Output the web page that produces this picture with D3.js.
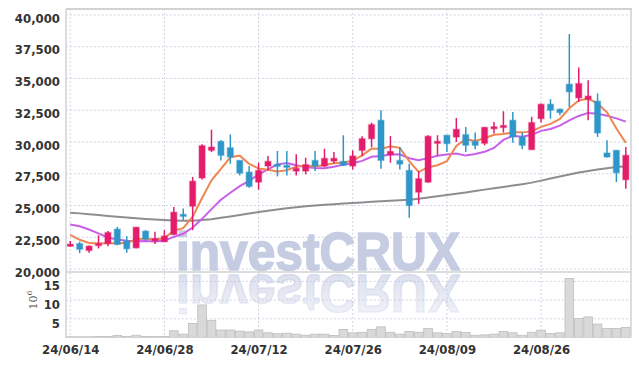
<!DOCTYPE html>
<html lang="ko">
<head>
<meta charset="UTF-8">
<title>Candlestick chart</title>
<style>
  body { margin: 0; background: #fff; }
  svg { display: block; }
  .axis text { font-family: "DejaVu Sans Condensed", "DejaVu Sans", sans-serif; font-size: 13px; font-weight: bold; fill: #333; }
  .grid line { stroke: #c3c8da; stroke-width: 1; stroke-dasharray: 1.5,2.5; }
  .frame { stroke: #d2d2d2; fill: none; }
</style>
</head>
<body>
<svg width="639" height="366"></svg>
<script src="https://d3js.org/d3.v7.min.js"></script>
<script>
const dates = [
  "24/06/14","24/06/17","24/06/18","24/06/19","24/06/20","24/06/21","24/06/24","24/06/25","24/06/26","24/06/27",
  "24/06/28","24/07/01","24/07/02","24/07/03","24/07/04","24/07/05","24/07/08","24/07/09","24/07/10","24/07/11",
  "24/07/12","24/07/15","24/07/16","24/07/17","24/07/18","24/07/19","24/07/22","24/07/23","24/07/24","24/07/25",
  "24/07/26","24/07/29","24/07/30","24/07/31","24/08/01","24/08/02","24/08/05","24/08/06","24/08/07","24/08/08",
  "24/08/09","24/08/12","24/08/13","24/08/14","24/08/16","24/08/19","24/08/20","24/08/21","24/08/22","24/08/23",
  "24/08/26","24/08/27","24/08/28","24/08/29","24/08/30","24/09/02","24/09/03","24/09/04","24/09/05","24/09/06"
];
const open = [
  21900,22000,21460,21920,22010,23140,22220,21670,22980,22220,
  22140,22720,24300,24940,27170,29340,30050,29550,28550,27630,
  26840,28110,28240,28160,27710,27710,28550,28110,28500,28470,
  28110,29340,30260,31710,29000,28550,27760,26050,26840,29920,
  30530,30390,30580,30050,29900,31150,31280,31710,30400,29400,
  31840,32970,32580,34550,33470,33370,33210,29130,29340,27030
];
const high = [
  22200,22150,21850,22660,23000,23320,22590,23300,23060,22930,
  23060,24890,24760,27250,29820,30970,30130,30600,28550,28110,
  28370,28900,29290,29290,29030,28760,29290,29470,29210,30530,
  29340,30450,31530,32500,30470,29600,28290,27690,30530,30530,
  30530,31890,31180,30740,31180,31580,32420,32370,30740,31980,
  33030,33370,32630,38500,35870,34870,33820,30130,29340,29610
];
const low = [
  21750,21250,21280,21620,21800,21880,21280,21620,22220,21960,
  22140,22660,23840,23060,27040,29210,28550,28290,27370,26400,
  26240,27760,27290,27370,27370,27450,27710,28030,28290,28110,
  27840,28900,29600,27900,28370,27840,24030,25130,26790,28950,
  29210,30000,29210,29420,29740,30660,30740,29950,29420,29400,
  31530,31840,32110,32760,33160,31710,30400,28770,26850,26320
];
const close = [
  21950,21550,21800,22000,22870,21930,21590,23290,22350,22400,
  22590,24470,24250,26910,29710,29600,28950,28820,27550,26500,
  27760,28470,28110,28030,27920,28210,28110,28710,28710,28160,
  28900,30260,31370,28550,29260,28260,25000,27110,30450,30050,
  29870,31000,29740,29740,31150,31200,31300,30400,29740,31530,
  32970,32500,32320,33950,34600,33610,30710,28820,27580,28950
];
// volume, millions of shares
const volume = [
  0.2,0.2,0.2,0.25,0.3,0.55,0.3,0.6,0.3,0.3,
  0.3,1.8,0.9,3.75,8.7,4.6,2.0,2.0,1.7,1.5,
  2.0,1.25,1.0,1.15,0.9,0.6,0.9,0.9,0.55,2.15,
  1.25,1.4,2.15,2.85,1.4,0.9,1.6,1.4,2.4,1.25,
  1.1,1.6,1.35,0.6,0.7,0.9,1.6,1.25,0.6,1.4,
  1.95,1.1,1.25,15.8,5.1,5.5,3.6,2.4,2.4,2.7
];
const ma5 = [
  22680,22300,22050,22000,22034,22030,22038,22336,22406,22312,
  22444,23020,23212,24124,25586,26988,27884,28798,28926,28284,
  27916,27820,27678,27774,28058,28148,28076,28196,28332,28380,
  28518,28948,29480,29448,29668,29540,28488,27636,28016,28174,
  28496,29696,30222,30080,30300,30566,30626,30758,30758,30834,
  31188,31428,31812,32654,33268,33396,33038,32338,31064,29934
];
const ma10 = [
  23500,23370,23110,22800,22480,22320,22220,22190,22200,22173,
  22237,22529,22774,23265,23949,24716,25452,26005,26525,26935,
  27452,27852,28238,28350,28171,28032,27948,27937,28053,28219,
  28333,28512,28838,28890,29024,29029,28718,28558,28732,28921,
  29018,29092,28929,29048,29237,29531,30161,30490,30419,30567,
  30877,31027,31285,31706,32051,32292,32233,32075,31859,31601
];
const ma60 = [
  24430,24380,24320,24250,24180,24110,24050,24000,23940,23890,
  23850,23820,23800,23800,23850,23920,24030,24140,24260,24370,
  24480,24580,24680,24780,24870,24950,25000,25050,25100,25150,
  25200,25240,25290,25330,25370,25410,25450,25540,25630,25720,
  25820,25920,26030,26140,26250,26350,26460,26570,26680,26800,
  26960,27120,27280,27440,27600,27720,27840,27940,28030,28100
];
const priceTicks = [20000,22500,25000,27500,30000,32500,35000,37500,40000];
const volumeTicks = [5,10,15];
const dateTicks = ["24/06/14","24/06/28","24/07/12","24/07/26","24/08/09","24/08/26"];

const UP = "#e31c6b", DOWN = "#2f96c9";
const m = { left: 66, right: 631, top: 9, sep: 272, bottom: 337.5 };

const svg = d3.select("svg");
const idx = d3.range(dates.length);

const x = d3.scaleLinear().domain([-0.45, dates.length - 0.45]).range([m.left, m.right]);
const y = d3.scaleLinear().domain([20000, 40000]).range([269, 15]);
const yv = d3.scaleLinear().domain([0, 15]).range([m.bottom, 281.4]);
const step = x(1) - x(0);

// watermark + reflection
const defs = svg.append("defs");
const grad = defs.append("linearGradient").attr("id", "fade")
  .attr("x1", 0).attr("y1", 0).attr("x2", 0).attr("y2", 1);
grad.append("stop").attr("offset", 0).attr("stop-color", "#cdd3e7").attr("stop-opacity", 0.2);
grad.append("stop").attr("offset", 1).attr("stop-color", "#cdd3e7").attr("stop-opacity", 0.8);

const wm = svg.append("g").attr("font-family", "Liberation Sans, Arial, sans-serif")
  .attr("font-weight", "bold").attr("font-size", 53);
wm.append("text").attr("x", 176).attr("y", 270)
  .attr("textLength", 284).attr("lengthAdjust", "spacingAndGlyphs")
  .attr("fill", "#c6cde3").attr("stroke", "#c6cde3").attr("stroke-width", 1.6)
  .text("investCRUX");
wm.append("text").attr("x", 176).attr("y", 270)
  .attr("transform", "translate(0,545) scale(1,-1)")
  .attr("textLength", 284).attr("lengthAdjust", "spacingAndGlyphs")
  .attr("fill", "url(#fade)").attr("stroke", "url(#fade)").attr("stroke-width", 1.6)
  .text("investCRUX");

// grid
const grid = svg.append("g").attr("class", "grid");
grid.selectAll(".hp").data(priceTicks).join("line").attr("class", "hp")
  .attr("x1", m.left).attr("x2", m.right).attr("y1", d => y(d)).attr("y2", d => y(d));
grid.selectAll(".hv").data(volumeTicks).join("line").attr("class", "hv")
  .attr("x1", m.left).attr("x2", m.right).attr("y1", d => yv(d)).attr("y2", d => yv(d));
grid.selectAll(".vx").data(dateTicks).join("line").attr("class", "vx")
  .attr("x1", d => x(dates.indexOf(d))).attr("x2", d => x(dates.indexOf(d)))
  .attr("y1", m.top).attr("y2", m.bottom);

// volume bars
svg.append("g").selectAll("rect").data(idx).join("rect")
  .attr("x", i => x(i) - step / 2 + 0.4)
  .attr("width", step - 0.8)
  .attr("y", i => yv(volume[i]))
  .attr("height", i => m.bottom - yv(volume[i]))
  .attr("fill", "#d9d9d9").attr("stroke", "#bdbdbd").attr("stroke-width", 0.8);

// moving averages
const line = arr => d3.line().x(i => x(i)).y(i => y(arr[i]))(idx);
svg.append("path").attr("d", line(ma60)).attr("fill", "none")
  .attr("stroke", "#7a7a7a").attr("stroke-width", 2).attr("stroke-opacity", 0.85);
svg.append("path").attr("d", line(ma10)).attr("fill", "none")
  .attr("stroke", "#c95ee8").attr("stroke-width", 2);
svg.append("path").attr("d", line(ma5)).attr("fill", "none")
  .attr("stroke", "#ee8751").attr("stroke-width", 2);

// candles
const bw = 6;
const candle = svg.append("g").selectAll("g").data(idx).join("g");
candle.append("line")
  .attr("x1", i => x(i)).attr("x2", i => x(i))
  .attr("y1", i => y(high[i])).attr("y2", i => y(low[i]))
  .attr("stroke", i => close[i] >= open[i] ? UP : DOWN).attr("stroke-width", 1.5);
candle.append("rect")
  .attr("x", i => x(i) - bw / 2).attr("width", bw)
  .attr("y", i => y(Math.max(open[i], close[i])))
  .attr("height", i => Math.max(2, Math.abs(y(open[i]) - y(close[i]))))
  .attr("fill", i => close[i] >= open[i] ? UP : DOWN)
  .attr("stroke", i => close[i] >= open[i] ? UP : DOWN)
  .attr("stroke-opacity", 0.35).attr("stroke-width", 1.5);

// frame
svg.append("line").attr("class", "frame").attr("x1", m.left).attr("x2", m.right + 1)
  .attr("y1", m.top).attr("y2", m.top).attr("stroke-width", 2);
svg.append("line").attr("class", "frame").attr("x1", m.left).attr("x2", m.left)
  .attr("y1", m.top).attr("y2", m.bottom).attr("stroke-width", 1.5);
svg.append("line").attr("class", "frame").attr("x1", m.right).attr("x2", m.right)
  .attr("y1", m.top).attr("y2", m.bottom).attr("stroke-width", 1.5);
svg.append("line").attr("class", "frame").attr("x1", m.left).attr("x2", m.right)
  .attr("y1", m.sep).attr("y2", m.sep).attr("stroke-width", 1.5);
svg.append("line").attr("class", "frame").attr("x1", m.left).attr("x2", m.right)
  .attr("y1", m.bottom).attr("y2", m.bottom).attr("stroke-width", 1);

// axes
const yAxis = svg.append("g").attr("class", "axis").attr("transform", `translate(${m.left - 6},0)`)
  .call(d3.axisLeft(y).tickValues(priceTicks).tickSize(0).tickPadding(0).tickFormat(d3.format(",")));
yAxis.select(".domain").remove();
yAxis.selectAll("text").attr("dy", "0.55em");

const vAxis = svg.append("g").attr("class", "axis").attr("transform", `translate(${m.left - 6},0)`)
  .call(d3.axisLeft(yv).tickValues(volumeTicks).tickSize(0).tickPadding(0));
vAxis.select(".domain").remove();
vAxis.selectAll("text").attr("dy", "0.65em");

const xAxis = svg.append("g").attr("class", "axis").attr("transform", `translate(0,${m.bottom})`)
  .call(d3.axisBottom(x).tickValues(dateTicks.map(d => dates.indexOf(d)))
    .tickSize(0).tickPadding(0).tickFormat(i => dates[i]));
xAxis.select(".domain").remove();
xAxis.selectAll("text").attr("y", 7).attr("dy", "0.71em");

svg.append("text")
  .attr("transform", "translate(37,300) rotate(-90)")
  .attr("text-anchor", "middle")
  .attr("font-family", "DejaVu Serif, serif").attr("font-size", 11).attr("fill", "#555")
  .text("10").append("tspan").attr("dy", -5).attr("font-size", 8).text("6");
</script>
</body>
</html>
